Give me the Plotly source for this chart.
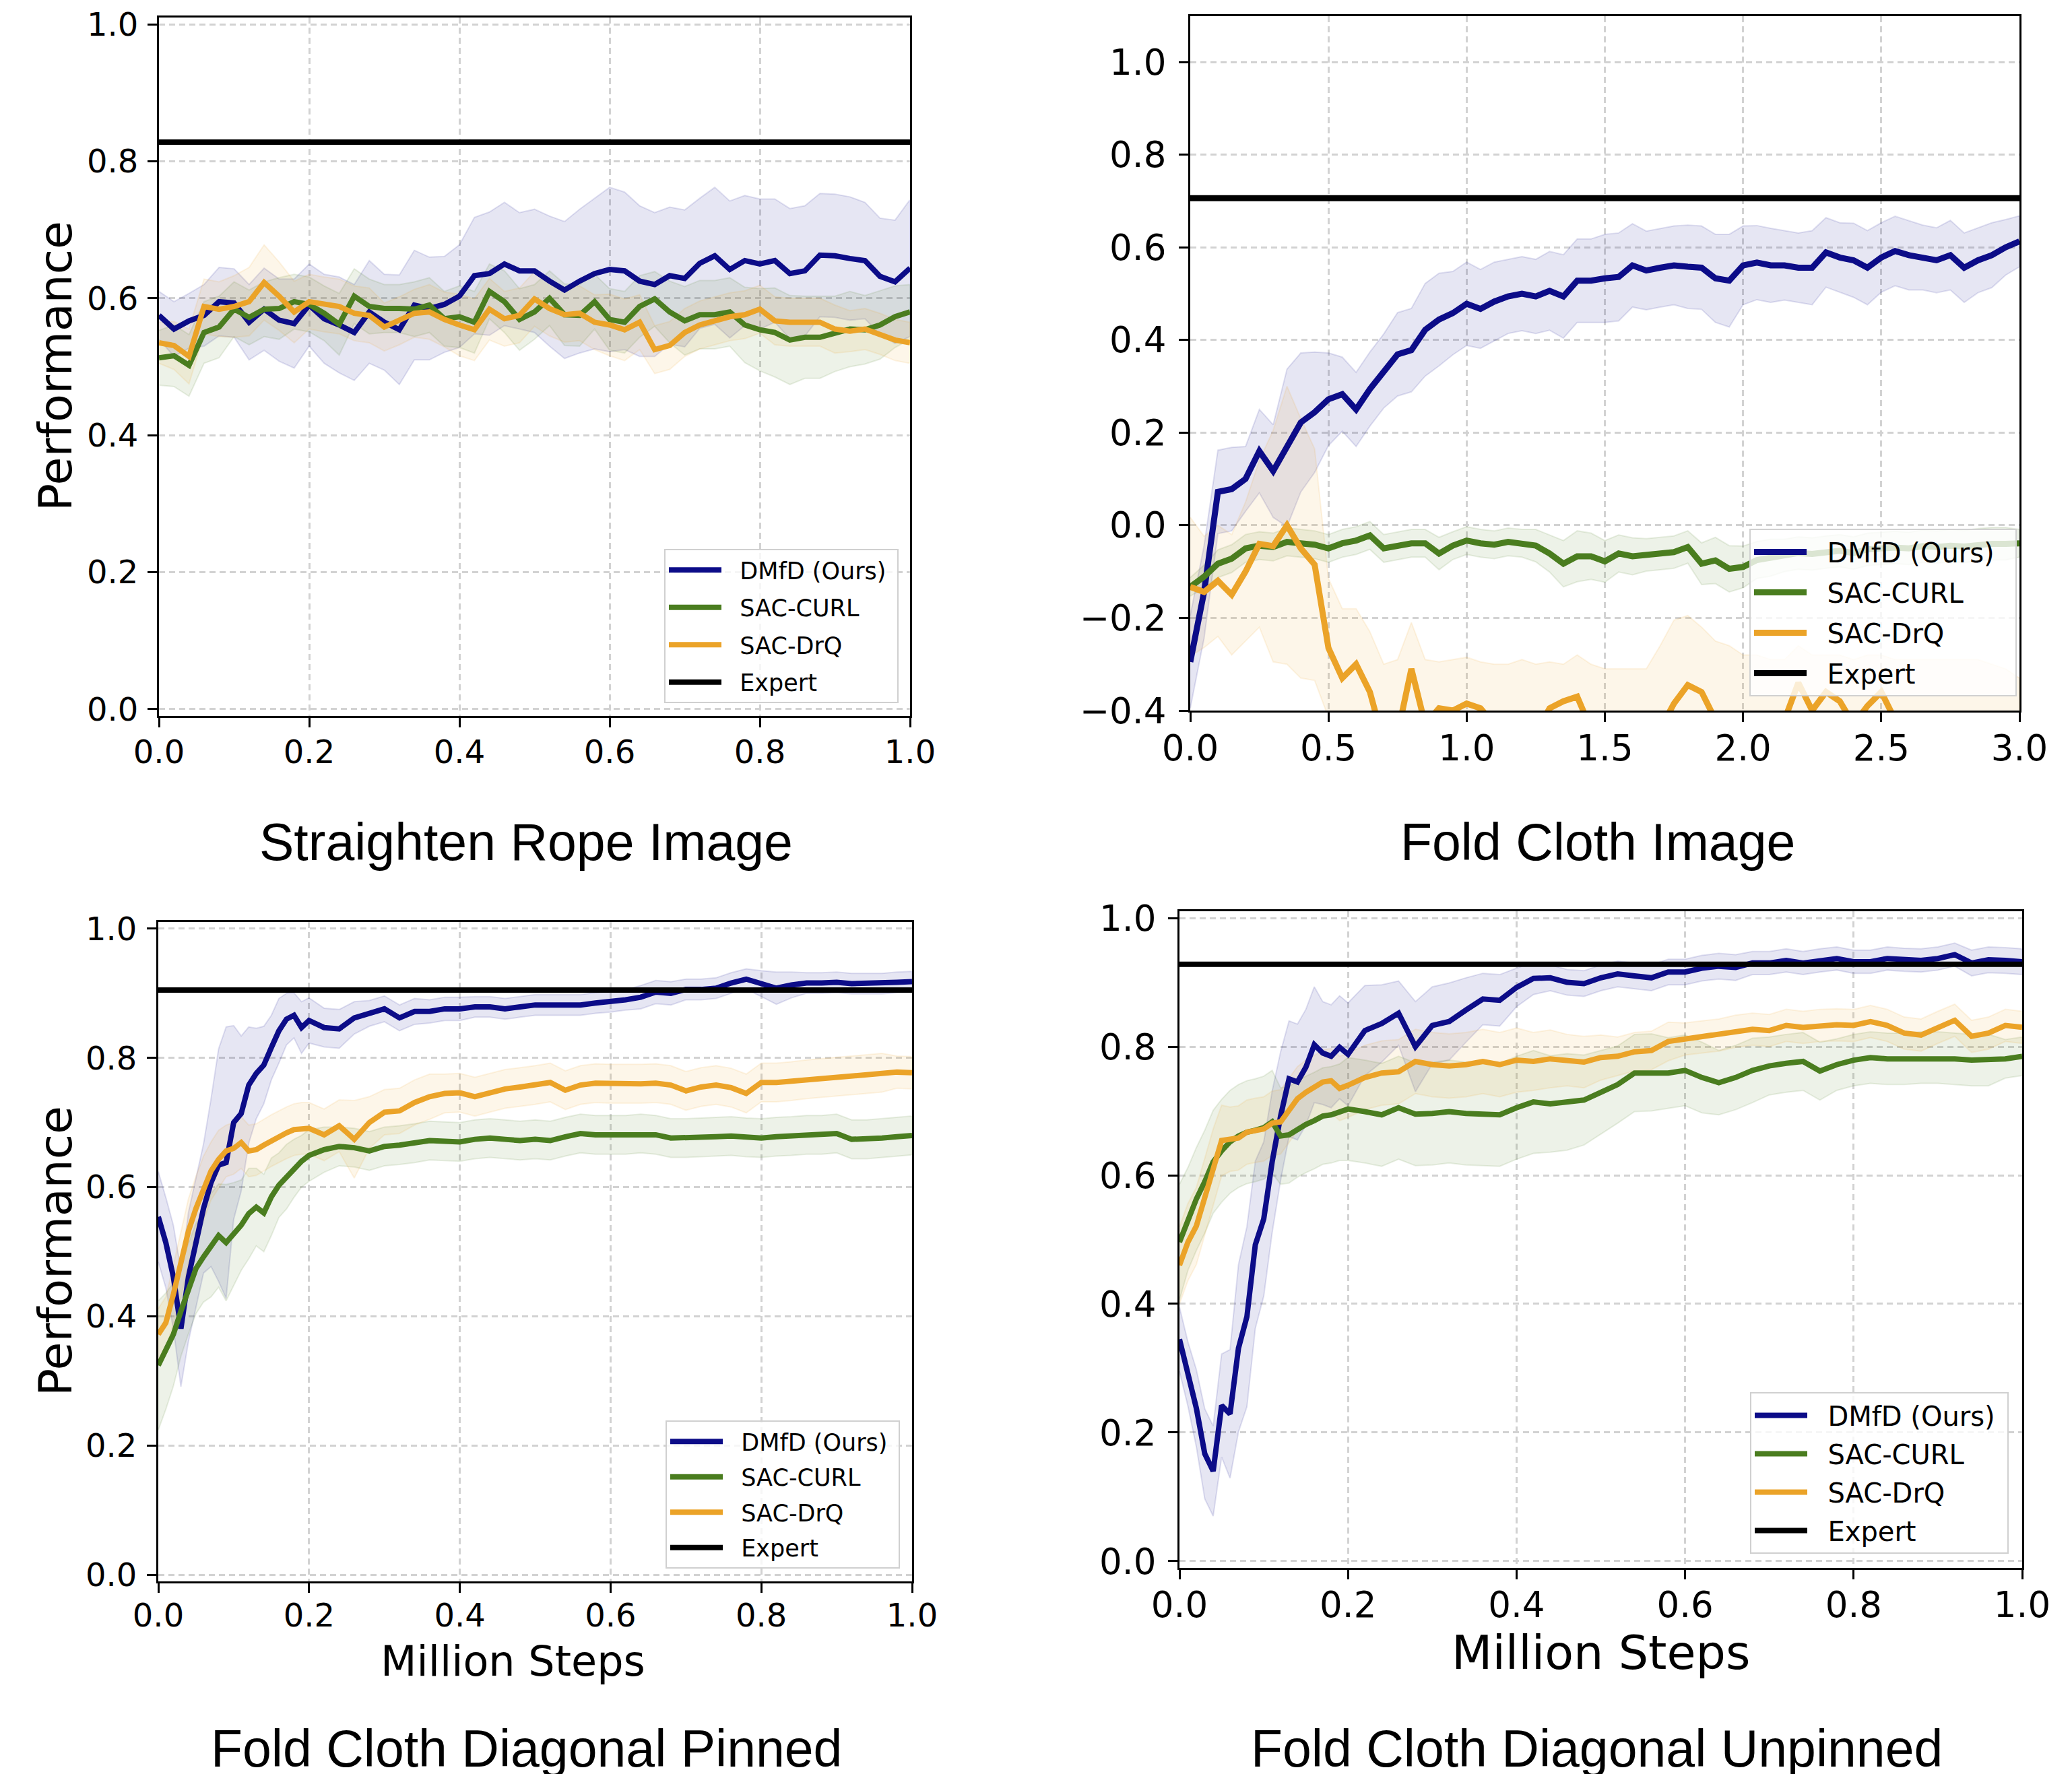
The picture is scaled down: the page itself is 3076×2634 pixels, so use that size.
import plotly.graph_objects as go

W, H = 3076, 2634

# ---------------- data ----------------
# Panel 1: Straighten Rope Image
p1_x = [0.00, 0.02, 0.04, 0.06, 0.08, 0.10, 0.12, 0.14, 0.16, 0.18, 0.20, 0.22, 0.24, 0.26, 0.28, 0.30, 0.32,
        0.34, 0.36, 0.38, 0.40, 0.42, 0.44, 0.46, 0.48, 0.50, 0.52, 0.54, 0.56, 0.58, 0.60, 0.62, 0.64, 0.66,
        0.68, 0.70, 0.72, 0.74, 0.76, 0.78, 0.80, 0.82, 0.84, 0.86, 0.88, 0.90, 0.92, 0.94, 0.96, 0.98, 1.00]
p1_dmfd = [0.575, 0.555, 0.567, 0.575, 0.595, 0.593, 0.565, 0.584, 0.568, 0.563, 0.590, 0.570, 0.561, 0.550,
           0.580, 0.565, 0.554, 0.590, 0.585, 0.591, 0.603, 0.633, 0.636, 0.650, 0.640, 0.640, 0.625, 0.612,
           0.625, 0.636, 0.642, 0.640, 0.625, 0.620, 0.633, 0.629, 0.651, 0.662, 0.642, 0.655, 0.650, 0.655,
           0.636, 0.640, 0.663, 0.662, 0.658, 0.655, 0.632, 0.624, 0.644]
p1_dmfd_sd = [0.035, 0.040, 0.040, 0.045, 0.050, 0.050, 0.055, 0.060, 0.060, 0.065, 0.060, 0.065, 0.070, 0.070,
              0.075, 0.070, 0.080, 0.080, 0.075, 0.070, 0.075, 0.085, 0.090, 0.090, 0.085, 0.090, 0.095, 0.100,
              0.105, 0.110, 0.120, 0.115, 0.110, 0.105, 0.100, 0.100, 0.095, 0.100, 0.100, 0.095, 0.095, 0.090,
              0.095, 0.095, 0.090, 0.090, 0.090, 0.085, 0.085, 0.090, 0.100]
p1_curl = [0.513, 0.516, 0.502, 0.550, 0.558, 0.584, 0.572, 0.584, 0.585, 0.595, 0.591, 0.578, 0.562, 0.603,
           0.588, 0.585, 0.585, 0.584, 0.590, 0.570, 0.573, 0.565, 0.610, 0.595, 0.569, 0.580, 0.600, 0.576,
           0.575, 0.595, 0.569, 0.565, 0.588, 0.599, 0.580, 0.567, 0.576, 0.576, 0.580, 0.561, 0.554, 0.550,
           0.539, 0.543, 0.543, 0.548, 0.555, 0.554, 0.561, 0.573, 0.580]
p1_curl_sd = [0.040, 0.045, 0.045, 0.045, 0.045, 0.040, 0.040, 0.040, 0.045, 0.040, 0.040, 0.040, 0.045, 0.040,
              0.040, 0.035, 0.035, 0.040, 0.040, 0.040, 0.045, 0.045, 0.040, 0.045, 0.045, 0.040, 0.040, 0.045,
              0.045, 0.040, 0.045, 0.045, 0.045, 0.040, 0.045, 0.050, 0.050, 0.050, 0.050, 0.055, 0.060, 0.065,
              0.065, 0.060, 0.060, 0.055, 0.055, 0.050, 0.050, 0.045, 0.040]
p1_drq = [0.535, 0.531, 0.515, 0.588, 0.584, 0.588, 0.595, 0.623, 0.603, 0.580, 0.595, 0.591, 0.588, 0.578,
          0.575, 0.558, 0.567, 0.578, 0.580, 0.569, 0.561, 0.554, 0.584, 0.570, 0.575, 0.599, 0.585, 0.576,
          0.578, 0.565, 0.561, 0.554, 0.565, 0.525, 0.531, 0.550, 0.561, 0.567, 0.573, 0.576, 0.584, 0.567,
          0.565, 0.565, 0.565, 0.555, 0.552, 0.555, 0.548, 0.539, 0.535]
p1_drq_sd = [0.030, 0.035, 0.040, 0.040, 0.040, 0.045, 0.050, 0.055, 0.050, 0.045, 0.040, 0.040, 0.040, 0.040,
             0.040, 0.035, 0.035, 0.035, 0.040, 0.040, 0.045, 0.045, 0.045, 0.040, 0.040, 0.040, 0.040, 0.040,
             0.040, 0.040, 0.045, 0.045, 0.040, 0.035, 0.035, 0.035, 0.035, 0.035, 0.035, 0.035, 0.035, 0.035,
             0.035, 0.035, 0.035, 0.035, 0.030, 0.030, 0.030, 0.030, 0.030]
p1_expert = 0.828

# Panel 2: Fold Cloth Image
p2_x = [0.00, 0.05, 0.10, 0.15, 0.20, 0.25, 0.30, 0.35, 0.40, 0.45, 0.50, 0.55, 0.60, 0.65, 0.70, 0.75, 0.80,
        0.85, 0.90, 0.95, 1.00, 1.05, 1.10, 1.15, 1.20, 1.25, 1.30, 1.35, 1.40, 1.45, 1.50, 1.55, 1.60, 1.65,
        1.70, 1.75, 1.80, 1.85, 1.90, 1.95, 2.00, 2.05, 2.10, 2.15, 2.20, 2.25, 2.30, 2.35, 2.40, 2.45, 2.50,
        2.55, 2.60, 2.65, 2.70, 2.75, 2.80, 2.85, 2.90, 2.95, 3.00]
p2_dmfd = [-0.295, -0.144, 0.072, 0.078, 0.100, 0.160, 0.117, 0.167, 0.222, 0.244, 0.272, 0.283, 0.250, 0.294,
           0.333, 0.369, 0.378, 0.422, 0.444, 0.458, 0.478, 0.467, 0.483, 0.494, 0.500, 0.494, 0.506, 0.494,
           0.528, 0.528, 0.533, 0.536, 0.561, 0.550, 0.556, 0.561, 0.558, 0.556, 0.533, 0.528, 0.561, 0.567,
           0.561, 0.561, 0.556, 0.556, 0.589, 0.578, 0.572, 0.556, 0.578, 0.592, 0.583, 0.578, 0.572, 0.583,
           0.556, 0.572, 0.583, 0.600, 0.613]
p2_dmfd_sd = [0.100, 0.100, 0.090, 0.090, 0.070, 0.090, 0.100, 0.170, 0.150, 0.130, 0.100, 0.080, 0.080, 0.080,
              0.080, 0.090, 0.090, 0.100, 0.100, 0.090, 0.090, 0.085, 0.085, 0.080, 0.080, 0.080, 0.085, 0.090,
              0.090, 0.090, 0.095, 0.095, 0.090, 0.085, 0.085, 0.085, 0.090, 0.090, 0.095, 0.100, 0.085, 0.080,
              0.080, 0.075, 0.075, 0.080, 0.075, 0.075, 0.080, 0.080, 0.075, 0.075, 0.075, 0.070, 0.070, 0.075,
              0.075, 0.070, 0.070, 0.060, 0.055]
p2_curl = [-0.133, -0.111, -0.083, -0.072, -0.050, -0.044, -0.047, -0.036, -0.039, -0.042, -0.050, -0.039,
           -0.033, -0.022, -0.050, -0.044, -0.039, -0.039, -0.061, -0.044, -0.033, -0.039, -0.042, -0.036,
           -0.039, -0.044, -0.061, -0.083, -0.067, -0.067, -0.078, -0.061, -0.067, -0.064, -0.061, -0.058,
           -0.047, -0.083, -0.076, -0.094, -0.090, -0.075, -0.070, -0.065, -0.060, -0.062, -0.058, -0.055,
           -0.060, -0.052, -0.050, -0.048, -0.050, -0.045, -0.047, -0.044, -0.046, -0.042, -0.040, -0.040, -0.039]
p2_curl_sd = [0.020, 0.025, 0.030, 0.030, 0.030, 0.030, 0.030, 0.030, 0.030, 0.030, 0.030, 0.030, 0.030, 0.030,
              0.030, 0.030, 0.030, 0.030, 0.035, 0.030, 0.030, 0.030, 0.030, 0.030, 0.030, 0.035, 0.040, 0.050,
              0.055, 0.050, 0.045, 0.040, 0.040, 0.035, 0.035, 0.035, 0.035, 0.045, 0.050, 0.050, 0.045, 0.040,
              0.040, 0.035, 0.035, 0.035, 0.035, 0.035, 0.035, 0.035, 0.035, 0.035, 0.035, 0.035, 0.035, 0.035,
              0.035, 0.035, 0.035, 0.035, 0.030]
p2_drq = [-0.133, -0.144, -0.120, -0.150, -0.100, -0.040, -0.045, 0.000, -0.050, -0.085, -0.265, -0.330, -0.300,
          -0.360, -0.470, -0.450, -0.310, -0.430, -0.395, -0.400, -0.385, -0.395, -0.430, -0.460, -0.440, -0.450,
          -0.395, -0.380, -0.370, -0.440, -0.480, -0.460, -0.450, -0.470, -0.440, -0.385, -0.345, -0.360, -0.420,
          -0.450, -0.460, -0.440, -0.450, -0.420, -0.340, -0.400, -0.360, -0.380, -0.430, -0.390, -0.360, -0.420,
          -0.440, -0.450, -0.430, -0.460, -0.440, -0.450, -0.470, -0.460, -0.440]
p2_drq_sd = [0.150, 0.120, 0.120, 0.130, 0.150, 0.180, 0.250, 0.300, 0.280, 0.250, 0.150, 0.150, 0.120, 0.130,
             0.170, 0.160, 0.100, 0.140, 0.100, 0.110, 0.100, 0.100, 0.130, 0.160, 0.150, 0.150, 0.100, 0.080,
             0.090, 0.140, 0.170, 0.150, 0.140, 0.160, 0.180, 0.180, 0.150, 0.140, 0.170, 0.190, 0.180, 0.160,
             0.160, 0.130, 0.080, 0.120, 0.080, 0.100, 0.140, 0.110, 0.080, 0.130, 0.150, 0.160, 0.140, 0.170,
             0.150, 0.160, 0.170, 0.150, 0.110]
p2_expert = 0.706

# Panel 3: Fold Cloth Diagonal Pinned
p3_x = [0.00, 0.01, 0.02, 0.03, 0.04, 0.05, 0.06, 0.07, 0.08, 0.09, 0.10, 0.11, 0.12, 0.13, 0.14, 0.15, 0.16,
        0.17, 0.18, 0.19, 0.20, 0.22, 0.24, 0.26, 0.28, 0.30, 0.32, 0.34, 0.36, 0.38, 0.40, 0.42, 0.44, 0.46,
        0.48, 0.50, 0.52, 0.54, 0.56, 0.58, 0.60, 0.62, 0.64, 0.66, 0.68, 0.70, 0.72, 0.74, 0.76, 0.78, 0.80,
        0.82, 0.84, 0.86, 0.88, 0.90, 0.92, 0.94, 0.96, 0.98, 1.00]
p3_dmfd = [0.554, 0.514, 0.461, 0.381, 0.461, 0.514, 0.567, 0.607, 0.634, 0.638, 0.700, 0.714, 0.758, 0.776,
           0.789, 0.816, 0.842, 0.860, 0.866, 0.847, 0.858, 0.847, 0.845, 0.862, 0.869, 0.876, 0.862, 0.872,
           0.872, 0.876, 0.876, 0.879, 0.879, 0.876, 0.879, 0.882, 0.882, 0.882, 0.882, 0.885, 0.887, 0.890,
           0.894, 0.902, 0.900, 0.906, 0.906, 0.908, 0.916, 0.922, 0.915, 0.908, 0.913, 0.916, 0.916, 0.917,
           0.915, 0.915, 0.915, 0.917, 0.918]
p3_dmfd_sd = [0.070, 0.070, 0.080, 0.090, 0.100, 0.100, 0.100, 0.130, 0.180, 0.210, 0.150, 0.120, 0.090, 0.070,
              0.060, 0.050, 0.050, 0.040, 0.035, 0.040, 0.035, 0.030, 0.030, 0.025, 0.020, 0.020, 0.020, 0.020,
              0.018, 0.018, 0.018, 0.016, 0.016, 0.016, 0.016, 0.016, 0.016, 0.016, 0.016, 0.016, 0.016, 0.016,
              0.018, 0.018, 0.018, 0.016, 0.016, 0.016, 0.016, 0.016, 0.020, 0.025, 0.020, 0.016, 0.016, 0.016,
              0.016, 0.016, 0.016, 0.016, 0.016]
p3_curl = [0.324, 0.346, 0.372, 0.408, 0.443, 0.474, 0.492, 0.510, 0.525, 0.514, 0.527, 0.541, 0.559, 0.569,
           0.560, 0.585, 0.603, 0.616, 0.629, 0.640, 0.649, 0.658, 0.663, 0.661, 0.656, 0.663, 0.665, 0.668,
           0.672, 0.671, 0.670, 0.674, 0.676, 0.674, 0.672, 0.674, 0.672, 0.678, 0.683, 0.681, 0.681, 0.681,
           0.683, 0.681, 0.676, 0.676, 0.677, 0.678, 0.679, 0.677, 0.676, 0.678, 0.679, 0.681, 0.681, 0.683,
           0.674, 0.674, 0.676, 0.678, 0.680]
p3_curl_sd = [0.100, 0.090, 0.080, 0.070, 0.070, 0.070, 0.070, 0.080, 0.080, 0.090, 0.080, 0.070, 0.070, 0.060,
              0.060, 0.060, 0.050, 0.050, 0.045, 0.040, 0.040, 0.035, 0.030, 0.030, 0.030, 0.030, 0.030, 0.030,
              0.030, 0.030, 0.030, 0.030, 0.030, 0.030, 0.030, 0.030, 0.030, 0.030, 0.030, 0.030, 0.030, 0.030,
              0.030, 0.030, 0.030, 0.030, 0.030, 0.030, 0.030, 0.030, 0.030, 0.030, 0.030, 0.030, 0.030, 0.030,
              0.030, 0.030, 0.030, 0.030, 0.030]
p3_drq = [0.372, 0.390, 0.434, 0.479, 0.532, 0.567, 0.598, 0.625, 0.643, 0.656, 0.660, 0.669, 0.656, 0.658,
          0.665, 0.672, 0.678, 0.684, 0.689, 0.691, 0.691, 0.681, 0.695, 0.674, 0.700, 0.716, 0.718, 0.731,
          0.740, 0.745, 0.746, 0.740, 0.746, 0.752, 0.755, 0.758, 0.762, 0.750, 0.758, 0.761, 0.760, 0.760,
          0.760, 0.761, 0.758, 0.749, 0.755, 0.758, 0.754, 0.745, 0.762, 0.762, 0.764, 0.767, 0.769, 0.771,
          0.773, 0.775, 0.777, 0.778, 0.777]
p3_drq_sd = [0.040, 0.040, 0.045, 0.050, 0.050, 0.050, 0.050, 0.045, 0.045, 0.040, 0.040, 0.040, 0.040, 0.040,
             0.040, 0.040, 0.040, 0.040, 0.040, 0.040, 0.040, 0.040, 0.040, 0.060, 0.040, 0.035, 0.035, 0.035,
             0.035, 0.030, 0.030, 0.030, 0.030, 0.030, 0.030, 0.030, 0.030, 0.030, 0.030, 0.030, 0.030, 0.030,
             0.030, 0.030, 0.030, 0.030, 0.030, 0.030, 0.030, 0.030, 0.030, 0.030, 0.030, 0.030, 0.030, 0.030,
             0.030, 0.030, 0.030, 0.025, 0.025]
p3_expert = 0.905

# Panel 4: Fold Cloth Diagonal Unpinned
p4_x = [0.00, 0.01, 0.02, 0.03, 0.04, 0.05, 0.06, 0.07, 0.08, 0.09, 0.10, 0.11, 0.12, 0.13, 0.14, 0.15, 0.16,
        0.17, 0.18, 0.19, 0.20, 0.22, 0.24, 0.26, 0.28, 0.30, 0.32, 0.34, 0.36, 0.38, 0.40, 0.42, 0.44, 0.46,
        0.48, 0.50, 0.52, 0.54, 0.56, 0.58, 0.60, 0.62, 0.64, 0.66, 0.68, 0.70, 0.72, 0.74, 0.76, 0.78, 0.80,
        0.82, 0.84, 0.86, 0.88, 0.90, 0.92, 0.94, 0.96, 0.98, 1.00]
p4_dmfd = [0.345, 0.291, 0.238, 0.167, 0.140, 0.242, 0.229, 0.331, 0.380, 0.492, 0.532, 0.621, 0.692, 0.750,
           0.745, 0.768, 0.803, 0.790, 0.785, 0.799, 0.788, 0.825, 0.836, 0.852, 0.800, 0.833, 0.839, 0.857,
           0.874, 0.872, 0.892, 0.906, 0.907, 0.900, 0.898, 0.907, 0.913, 0.910, 0.907, 0.916, 0.916, 0.922,
           0.925, 0.923, 0.930, 0.930, 0.934, 0.930, 0.934, 0.937, 0.932, 0.932, 0.937, 0.935, 0.934, 0.937,
           0.943, 0.930, 0.935, 0.934, 0.932]
p4_dmfd_sd = [0.050, 0.050, 0.060, 0.070, 0.070, 0.080, 0.100, 0.130, 0.140, 0.130, 0.120, 0.110, 0.100, 0.090,
              0.090, 0.090, 0.090, 0.080, 0.080, 0.080, 0.080, 0.070, 0.060, 0.050, 0.070, 0.060, 0.060, 0.050,
              0.040, 0.040, 0.030, 0.025, 0.020, 0.020, 0.020, 0.020, 0.020, 0.020, 0.020, 0.020, 0.020, 0.020,
              0.020, 0.020, 0.018, 0.018, 0.018, 0.018, 0.018, 0.018, 0.018, 0.018, 0.018, 0.018, 0.018, 0.018,
              0.018, 0.020, 0.020, 0.020, 0.020]
p4_curl = [0.496, 0.532, 0.563, 0.590, 0.621, 0.638, 0.652, 0.661, 0.667, 0.670, 0.674, 0.683, 0.661, 0.663,
           0.672, 0.679, 0.685, 0.692, 0.694, 0.698, 0.703, 0.699, 0.694, 0.705, 0.695, 0.696, 0.699, 0.696,
           0.695, 0.694, 0.705, 0.714, 0.711, 0.714, 0.717, 0.729, 0.741, 0.759, 0.760, 0.759, 0.763, 0.752,
           0.744, 0.752, 0.763, 0.770, 0.774, 0.777, 0.762, 0.772, 0.779, 0.783, 0.781, 0.781, 0.783, 0.783,
           0.781, 0.779, 0.779, 0.781, 0.785]
p4_curl_sd = [0.090, 0.080, 0.080, 0.080, 0.080, 0.080, 0.080, 0.080, 0.080, 0.080, 0.080, 0.080, 0.075, 0.075,
              0.075, 0.075, 0.075, 0.075, 0.075, 0.075, 0.080, 0.080, 0.080, 0.080, 0.080, 0.080, 0.080, 0.080,
              0.080, 0.080, 0.080, 0.080, 0.075, 0.075, 0.070, 0.065, 0.060, 0.060, 0.060, 0.055, 0.055, 0.055,
              0.050, 0.050, 0.050, 0.045, 0.045, 0.045, 0.045, 0.040, 0.040, 0.040, 0.040, 0.040, 0.040, 0.040,
              0.040, 0.040, 0.040, 0.030, 0.030]
p4_drq = [0.460, 0.496, 0.521, 0.567, 0.612, 0.654, 0.656, 0.658, 0.667, 0.670, 0.672, 0.681, 0.683, 0.701,
          0.719, 0.729, 0.736, 0.745, 0.747, 0.735, 0.740, 0.752, 0.759, 0.761, 0.777, 0.772, 0.770, 0.772,
          0.777, 0.772, 0.779, 0.777, 0.781, 0.779, 0.776, 0.783, 0.785, 0.792, 0.794, 0.808, 0.812, 0.815,
          0.818, 0.824, 0.827, 0.825, 0.833, 0.830, 0.833, 0.834, 0.833, 0.839, 0.833, 0.821, 0.818, 0.830,
          0.841, 0.816, 0.821, 0.833, 0.830]
p4_drq_sd = [0.060, 0.060, 0.060, 0.060, 0.060, 0.055, 0.050, 0.050, 0.050, 0.050, 0.050, 0.050, 0.050, 0.050,
             0.050, 0.050, 0.050, 0.050, 0.050, 0.050, 0.050, 0.050, 0.050, 0.050, 0.050, 0.050, 0.050, 0.050,
             0.050, 0.050, 0.050, 0.045, 0.045, 0.040, 0.040, 0.035, 0.030, 0.030, 0.030, 0.030, 0.025, 0.025,
             0.025, 0.025, 0.025, 0.025, 0.025, 0.025, 0.025, 0.025, 0.025, 0.025, 0.025, 0.025, 0.025, 0.025,
             0.025, 0.025, 0.025, 0.025, 0.025]
p4_expert = 0.928

series_names = ["DMfD (Ours)", "SAC-CURL", "SAC-DrQ", "Expert"]
titles = ["Straighten Rope Image", "Fold Cloth Image", "Fold Cloth Diagonal Pinned", "Fold Cloth Diagonal Unpinned"]
y_label = "Performance"
x_label = "Million Steps"

# ---------------- style ----------------
COLORS = ["#0c0c88", "#4a7d1f", "#eba328"]
BANDS = ["rgba(12,12,136,0.10)", "rgba(74,125,31,0.10)", "rgba(235,163,40,0.10)"]
BAND_EDGES = ["rgba(12,12,136,0.12)", "rgba(74,125,31,0.12)", "rgba(235,163,40,0.12)"]
NB = "\u00a0"

# axes boxes in pixels: (left, right, top, bottom)
boxes = [(236, 1351, 26, 1063), (1767, 2998, 24, 1055), (235, 1354, 1369, 2348), (1751, 3002, 1353, 2328)]
xranges = [[0, 1], [0, 3], [0, 1], [0, 1]]
yranges = [[-0.01, 1.01], [-0.4, 1.099], [-0.0104, 1.0104], [-0.0105, 1.0105]]
xdticks = [0.2, 0.5, 0.2, 0.2]
tickfont = [48, 53, 48, 53]
x_standoff = [-5, -7, -8, -8]
y_standoff = [4, 8, 5, 7]
legfont = [35, 40, 35, 40]
leggap = [7, 5, 4, 2]
leg_trail = [1, 2, 1, 1]
lw = [8, 9, 8, 8]
expert_lw = [8, 9, 8, 8]
leg_pos = [(1334, 1044), (2994, 1034), (1336, 2329), (2982, 2307)]

panels = [
    (p1_x, [(p1_dmfd, p1_dmfd_sd), (p1_curl, p1_curl_sd), (p1_drq, p1_drq_sd)], p1_expert),
    (p2_x, [(p2_dmfd, p2_dmfd_sd), (p2_curl, p2_curl_sd), (p2_drq, p2_drq_sd)], p2_expert),
    (p3_x, [(p3_dmfd, p3_dmfd_sd), (p3_curl, p3_curl_sd), (p3_drq, p3_drq_sd)], p3_expert),
    (p4_x, [(p4_dmfd, p4_dmfd_sd), (p4_curl, p4_curl_sd), (p4_drq, p4_drq_sd)], p4_expert),
]

fig = go.Figure()
layout = dict(width=W, height=H, margin=dict(l=0, r=0, t=0, b=0, pad=0, autoexpand=False),
              plot_bgcolor="white", paper_bgcolor="white", showlegend=True,
              font=dict(family="DejaVu Sans", color="black"))

for i, (xs, series, expert) in enumerate(panels):
    k = "" if i == 0 else str(i + 1)
    xref, yref = "x" + k, "y" + k
    legname = "legend" + k
    pre, post = NB * 2, NB * leg_trail[i]
    # bands
    for j, (m, sd) in enumerate(series):
        up = [a + b for a, b in zip(m, sd)]
        lo = [a - b for a, b in zip(m, sd)]
        fig.add_trace(go.Scatter(x=xs + xs[::-1], y=up + lo[::-1], mode="lines", fill="toself",
                                 fillcolor=BANDS[j], line=dict(color=BAND_EDGES[j], width=2),
                                 hoverinfo="skip", showlegend=False, xaxis=xref, yaxis=yref))
    # means
    for j, (m, sd) in enumerate(series):
        fig.add_trace(go.Scatter(x=xs, y=m, mode="lines", name=pre + series_names[j] + post,
                                 line=dict(color=COLORS[j], width=lw[i]),
                                 legendgroup="p%d_%d" % (i, j),
                                 xaxis=xref, yaxis=yref, legend=legname))
    fig.add_trace(go.Scatter(x=xranges[i], y=[expert, expert], mode="lines", name=pre + series_names[3] + post,
                             line=dict(color="black", width=expert_lw[i]), legendgroup="p%d_e" % i,
                             xaxis=xref, yaxis=yref, legend=legname))

    l, r, t, b = boxes[i]
    common = dict(showline=True, mirror=True, linecolor="black", linewidth=3,
                  ticks="outside", ticklen=14, tickwidth=3, tickcolor="black",
                  showgrid=True, gridcolor="#d2d2d2", gridwidth=2.5, griddash="9px,6px",
                  zeroline=False, tickformat=".1f", automargin=False,
                  tickfont=dict(family="DejaVu Sans", size=tickfont[i], color="black"))
    layout["xaxis" + k] = dict(domain=[l / W, r / W], range=xranges[i], dtick=xdticks[i], tick0=0,
                               anchor=yref, ticklabelstandoff=x_standoff[i], **common)
    layout["yaxis" + k] = dict(domain=[1 - b / H, 1 - t / H], range=yranges[i], dtick=0.2, tick0=0,
                               anchor=xref, ticklabelstandoff=y_standoff[i], **common)
    lx, ly = leg_pos[i]
    layout[legname] = dict(x=lx / W, y=1 - ly / H, xanchor="right", yanchor="bottom",
                           bgcolor="rgba(255,255,255,0.8)", bordercolor="#d0d0d0", borderwidth=2,
                           itemwidth=78, tracegroupgap=leggap[i], itemclick=False, itemdoubleclick=False,
                           font=dict(family="DejaVu Sans", size=legfont[i], color="black"))

annotations = []
title_pos = [(781, 1250), (2372, 1250), (781, 2596), (2370, 2596)]
for i, (tx, ty) in enumerate(title_pos):
    annotations.append(dict(text=titles[i], x=tx / W, y=1 - ty / H, xref="paper", yref="paper",
                            xanchor="center", yanchor="middle", showarrow=False,
                            font=dict(family="Liberation Sans", size=77, color="black")))
for (tx, ty) in [(82, 544), (82, 1858)]:
    annotations.append(dict(text=y_label, x=tx / W, y=1 - ty / H, xref="paper", yref="paper",
                            xanchor="center", yanchor="middle", textangle=-90, showarrow=False,
                            font=dict(family="DejaVu Sans", size=68, color="black")))
for (tx, ty, fs) in [(761, 2466, 62), (2376, 2454, 70)]:
    annotations.append(dict(text=x_label, x=tx / W, y=1 - ty / H, xref="paper", yref="paper",
                            xanchor="center", yanchor="middle", showarrow=False,
                            font=dict(family="DejaVu Sans", size=fs, color="black")))
layout["annotations"] = annotations
fig.update_layout(**layout)
fig.write_html("out.html", config={"displayModeBar": False},
               post_script="document.body.style.margin='0px';document.body.style.padding='0px';")
